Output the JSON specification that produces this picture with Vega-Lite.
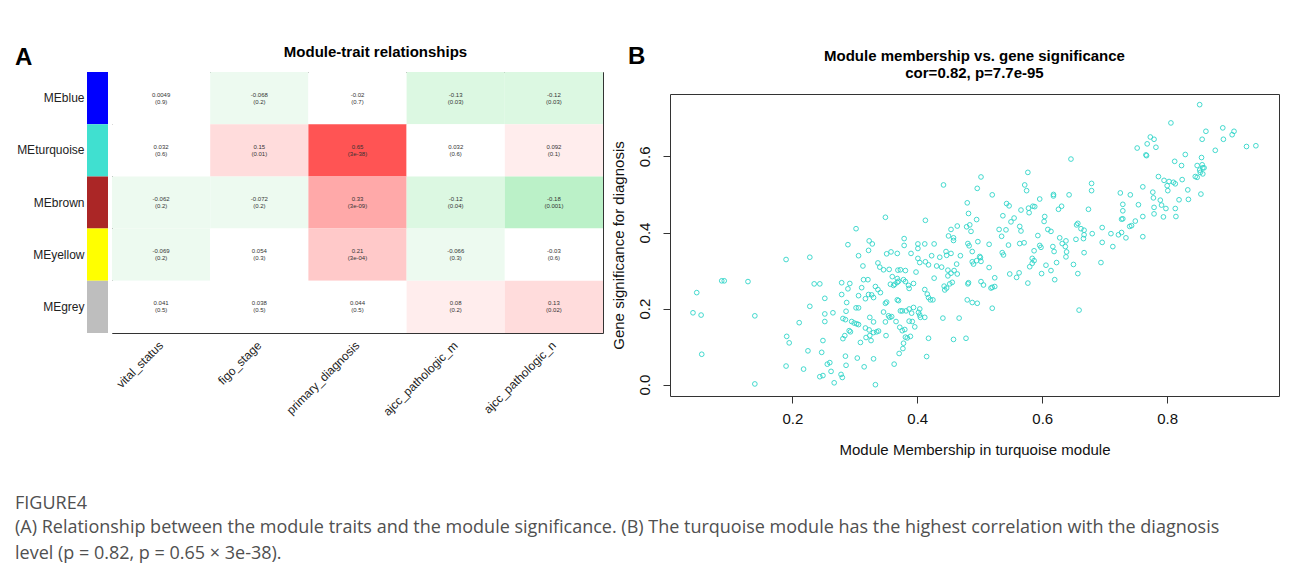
{
  "$schema": "https://vega.github.io/schema/vega-lite/v6.json",
  "background": "white",
  "padding": {"left": 15, "top": 44, "right": 0, "bottom": 0},
  "bounds": "flush",
  "spacing": 583,
  "resolve": {"scale": {"color": "independent"}},
  "config": {
    "font": "Liberation Sans",
    "view": {"stroke": "#333333", "strokeWidth": 1},
    "axis": {"grid": false, "domain": false, "labelFont": "Liberation Sans", "titleFont": "Liberation Sans", "labelColor": "#111111", "titleColor": "#111111", "tickColor": "#333333", "titleFontWeight": "normal"},
    "title": {"font": "Liberation Sans", "color": "#000000"}
  },
  "title": {
    "text": "FIGURE4",
    "subtitle": ["(A) Relationship between the module traits and the module significance. (B) The turquoise module has the highest correlation with the diagnosis", "level (p = 0.82, p = 0.65 × 3e-38)."],
    "orient": "bottom",
    "anchor": "start",
    "font": "Open Sans",
    "fontSize": 18,
    "fontWeight": "normal",
    "color": "#505050",
    "subtitleFont": "Open Sans",
    "subtitleFontSize": 18,
    "subtitleColor": "#505050",
    "subtitleLineHeight": 26,
    "subtitlePadding": 6,
    "offset": 37
  },
  "datasets": {
    "modules": [
      {"module": "MEblue"}, {"module": "MEturquoise"}, {"module": "MEbrown"}, {"module": "MEyellow"}, {"module": "MEgrey"}
    ],
    "cells": [
      {"module": "MEblue", "trait": "vital_status", "corr": 0.0049, "r": "0.0049", "p": "(0.9)"},
      {"module": "MEblue", "trait": "figo_stage", "corr": -0.068, "r": "-0.068", "p": "(0.2)"},
      {"module": "MEblue", "trait": "primary_diagnosis", "corr": -0.02, "r": "-0.02", "p": "(0.7)"},
      {"module": "MEblue", "trait": "ajcc_pathologic_m", "corr": -0.13, "r": "-0.13", "p": "(0.03)"},
      {"module": "MEblue", "trait": "ajcc_pathologic_n", "corr": -0.12, "r": "-0.12", "p": "(0.03)"},
      {"module": "MEturquoise", "trait": "vital_status", "corr": 0.032, "r": "0.032", "p": "(0.6)"},
      {"module": "MEturquoise", "trait": "figo_stage", "corr": 0.15, "r": "0.15", "p": "(0.01)"},
      {"module": "MEturquoise", "trait": "primary_diagnosis", "corr": 0.65, "r": "0.65", "p": "(3e-38)"},
      {"module": "MEturquoise", "trait": "ajcc_pathologic_m", "corr": 0.032, "r": "0.032", "p": "(0.6)"},
      {"module": "MEturquoise", "trait": "ajcc_pathologic_n", "corr": 0.092, "r": "0.092", "p": "(0.1)"},
      {"module": "MEbrown", "trait": "vital_status", "corr": -0.062, "r": "-0.062", "p": "(0.2)"},
      {"module": "MEbrown", "trait": "figo_stage", "corr": -0.072, "r": "-0.072", "p": "(0.2)"},
      {"module": "MEbrown", "trait": "primary_diagnosis", "corr": 0.33, "r": "0.33", "p": "(3e-09)"},
      {"module": "MEbrown", "trait": "ajcc_pathologic_m", "corr": -0.12, "r": "-0.12", "p": "(0.04)"},
      {"module": "MEbrown", "trait": "ajcc_pathologic_n", "corr": -0.18, "r": "-0.18", "p": "(0.001)"},
      {"module": "MEyellow", "trait": "vital_status", "corr": -0.069, "r": "-0.069", "p": "(0.2)"},
      {"module": "MEyellow", "trait": "figo_stage", "corr": 0.054, "r": "0.054", "p": "(0.3)"},
      {"module": "MEyellow", "trait": "primary_diagnosis", "corr": 0.21, "r": "0.21", "p": "(3e-04)"},
      {"module": "MEyellow", "trait": "ajcc_pathologic_m", "corr": -0.066, "r": "-0.066", "p": "(0.3)"},
      {"module": "MEyellow", "trait": "ajcc_pathologic_n", "corr": -0.03, "r": "-0.03", "p": "(0.6)"},
      {"module": "MEgrey", "trait": "vital_status", "corr": 0.041, "r": "0.041", "p": "(0.5)"},
      {"module": "MEgrey", "trait": "figo_stage", "corr": 0.038, "r": "0.038", "p": "(0.5)"},
      {"module": "MEgrey", "trait": "primary_diagnosis", "corr": 0.044, "r": "0.044", "p": "(0.5)"},
      {"module": "MEgrey", "trait": "ajcc_pathologic_m", "corr": 0.08, "r": "0.08", "p": "(0.2)"},
      {"module": "MEgrey", "trait": "ajcc_pathologic_n", "corr": 0.13, "r": "0.13", "p": "(0.02)"}
    ],
    "genes": [
      {"mm":0.442,"gs":0.525},{"mm":0.496,"gs":0.516},{"mm":0.480,"gs":0.478},{"mm":0.482,"gs":0.450},{"mm":0.495,"gs":0.434},
      {"mm":0.349,"gs":0.440},{"mm":0.413,"gs":0.432},{"mm":0.302,"gs":0.410},{"mm":0.454,"gs":0.408},{"mm":0.464,"gs":0.417},
      {"mm":0.479,"gs":0.415},{"mm":0.484,"gs":0.420},{"mm":0.486,"gs":0.403},{"mm":0.450,"gs":0.391},{"mm":0.458,"gs":0.386},
      {"mm":0.458,"gs":0.379},{"mm":0.379,"gs":0.384},{"mm":0.379,"gs":0.366},{"mm":0.323,"gs":0.378},{"mm":0.328,"gs":0.370},
      {"mm":0.322,"gs":0.353},{"mm":0.289,"gs":0.368},{"mm":0.306,"gs":0.339},{"mm":0.401,"gs":0.370},{"mm":0.412,"gs":0.370},
      {"mm":0.427,"gs":0.370},{"mm":0.401,"gs":0.358},{"mm":0.481,"gs":0.371},{"mm":0.483,"gs":0.365},{"mm":0.497,"gs":0.376},
      {"mm":0.488,"gs":0.350},{"mm":0.446,"gs":0.350},{"mm":0.454,"gs":0.345},{"mm":0.447,"gs":0.340},{"mm":0.469,"gs":0.339},
      {"mm":0.351,"gs":0.344},{"mm":0.358,"gs":0.349},{"mm":0.368,"gs":0.345},{"mm":0.390,"gs":0.345},{"mm":0.423,"gs":0.339},
      {"mm":0.436,"gs":0.335},{"mm":0.228,"gs":0.335},{"mm":0.190,"gs":0.329},{"mm":0.087,"gs":0.273},{"mm":0.091,"gs":0.273},
      {"mm":0.129,"gs":0.271},{"mm":0.047,"gs":0.242},{"mm":0.041,"gs":0.189},{"mm":0.054,"gs":0.183},{"mm":0.055,"gs":0.080},
      {"mm":0.140,"gs":0.181},{"mm":0.140,"gs":0.002},{"mm":0.235,"gs":0.265},{"mm":0.244,"gs":0.265},{"mm":0.228,"gs":0.206},
      {"mm":0.252,"gs":0.227},{"mm":0.252,"gs":0.186},{"mm":0.252,"gs":0.166},{"mm":0.265,"gs":0.189},{"mm":0.211,"gs":0.163},
      {"mm":0.191,"gs":0.127},{"mm":0.195,"gs":0.110},{"mm":0.249,"gs":0.116},{"mm":0.225,"gs":0.089},{"mm":0.247,"gs":0.085},
      {"mm":0.190,"gs":0.049},{"mm":0.218,"gs":0.041},{"mm":0.256,"gs":0.054},{"mm":0.260,"gs":0.058},{"mm":0.262,"gs":0.035},
      {"mm":0.244,"gs":0.021},{"mm":0.249,"gs":0.024},{"mm":0.267,"gs":0.005},{"mm":0.278,"gs":0.027},{"mm":0.280,"gs":0.019},
      {"mm":0.285,"gs":0.075},{"mm":0.286,"gs":0.051},{"mm":0.304,"gs":0.070},{"mm":0.315,"gs":0.047},{"mm":0.330,"gs":0.068},
      {"mm":0.333,"gs":0.000},{"mm":0.309,"gs":0.111},{"mm":0.281,"gs":0.121},{"mm":0.284,"gs":0.129},{"mm":0.291,"gs":0.142},
      {"mm":0.293,"gs":0.139},{"mm":0.281,"gs":0.174},{"mm":0.285,"gs":0.171},{"mm":0.286,"gs":0.193},{"mm":0.295,"gs":0.166},
      {"mm":0.299,"gs":0.162},{"mm":0.303,"gs":0.160},{"mm":0.306,"gs":0.158},{"mm":0.287,"gs":0.216},{"mm":0.279,"gs":0.237},
      {"mm":0.279,"gs":0.268},{"mm":0.292,"gs":0.266},{"mm":0.289,"gs":0.252},{"mm":0.306,"gs":0.234},{"mm":0.302,"gs":0.202},
      {"mm":0.306,"gs":0.202},{"mm":0.311,"gs":0.255},{"mm":0.314,"gs":0.276},{"mm":0.321,"gs":0.276},{"mm":0.313,"gs":0.312},
      {"mm":0.317,"gs":0.226},{"mm":0.322,"gs":0.237},{"mm":0.327,"gs":0.236},{"mm":0.330,"gs":0.229},{"mm":0.333,"gs":0.258},
      {"mm":0.337,"gs":0.250},{"mm":0.341,"gs":0.242},{"mm":0.337,"gs":0.320},{"mm":0.340,"gs":0.309},{"mm":0.346,"gs":0.302},
      {"mm":0.355,"gs":0.303},{"mm":0.349,"gs":0.214},{"mm":0.351,"gs":0.217},{"mm":0.346,"gs":0.191},{"mm":0.324,"gs":0.177},
      {"mm":0.330,"gs":0.165},{"mm":0.317,"gs":0.149},{"mm":0.323,"gs":0.144},{"mm":0.330,"gs":0.137},{"mm":0.335,"gs":0.139},
      {"mm":0.338,"gs":0.141},{"mm":0.318,"gs":0.124},{"mm":0.324,"gs":0.129},{"mm":0.326,"gs":0.116},{"mm":0.354,"gs":0.181},
      {"mm":0.356,"gs":0.177},{"mm":0.359,"gs":0.179},{"mm":0.349,"gs":0.165},{"mm":0.350,"gs":0.129},{"mm":0.366,"gs":0.166},
      {"mm":0.357,"gs":0.264},{"mm":0.362,"gs":0.261},{"mm":0.364,"gs":0.264},{"mm":0.368,"gs":0.269},{"mm":0.369,"gs":0.301},
      {"mm":0.373,"gs":0.302},{"mm":0.381,"gs":0.300},{"mm":0.360,"gs":0.284},{"mm":0.368,"gs":0.279},{"mm":0.370,"gs":0.272},
      {"mm":0.378,"gs":0.276},{"mm":0.381,"gs":0.271},{"mm":0.386,"gs":0.261},{"mm":0.394,"gs":0.266},{"mm":0.387,"gs":0.253},
      {"mm":0.368,"gs":0.223},{"mm":0.370,"gs":0.221},{"mm":0.373,"gs":0.194},{"mm":0.376,"gs":0.194},{"mm":0.372,"gs":0.151},
      {"mm":0.376,"gs":0.142},{"mm":0.380,"gs":0.145},{"mm":0.381,"gs":0.125},{"mm":0.384,"gs":0.123},{"mm":0.389,"gs":0.127},
      {"mm":0.377,"gs":0.095},{"mm":0.378,"gs":0.109},{"mm":0.371,"gs":0.082},{"mm":0.363,"gs":0.054},{"mm":0.382,"gs":0.194},
      {"mm":0.387,"gs":0.199},{"mm":0.391,"gs":0.188},{"mm":0.394,"gs":0.203},{"mm":0.404,"gs":0.199},{"mm":0.387,"gs":0.167},
      {"mm":0.392,"gs":0.166},{"mm":0.396,"gs":0.152},{"mm":0.402,"gs":0.190},{"mm":0.404,"gs":0.183},{"mm":0.405,"gs":0.177},
      {"mm":0.412,"gs":0.177},{"mm":0.398,"gs":0.296},{"mm":0.401,"gs":0.332},{"mm":0.404,"gs":0.321},{"mm":0.413,"gs":0.323},
      {"mm":0.418,"gs":0.315},{"mm":0.431,"gs":0.312},{"mm":0.439,"gs":0.309},{"mm":0.412,"gs":0.250},{"mm":0.416,"gs":0.238},
      {"mm":0.418,"gs":0.229},{"mm":0.421,"gs":0.223},{"mm":0.425,"gs":0.223},{"mm":0.427,"gs":0.280},{"mm":0.449,"gs":0.301},
      {"mm":0.449,"gs":0.286},{"mm":0.454,"gs":0.293},{"mm":0.459,"gs":0.300},{"mm":0.464,"gs":0.291},{"mm":0.443,"gs":0.259},
      {"mm":0.444,"gs":0.249},{"mm":0.447,"gs":0.254},{"mm":0.452,"gs":0.265},{"mm":0.456,"gs":0.269},{"mm":0.463,"gs":0.317},
      {"mm":0.481,"gs":0.265},{"mm":0.482,"gs":0.268},{"mm":0.480,"gs":0.223},{"mm":0.488,"gs":0.216},{"mm":0.496,"gs":0.214},
      {"mm":0.441,"gs":0.175},{"mm":0.467,"gs":0.175},{"mm":0.418,"gs":0.122},{"mm":0.458,"gs":0.119},{"mm":0.478,"gs":0.122},
      {"mm":0.415,"gs":0.074},{"mm":0.488,"gs":0.323},{"mm":0.490,"gs":0.317},{"mm":0.495,"gs":0.326},
      {"mm":0.852,"gs":0.736},{"mm":0.806,"gs":0.688},{"mm":0.862,"gs":0.666},{"mm":0.889,"gs":0.675},{"mm":0.890,"gs":0.645},
      {"mm":0.904,"gs":0.657},{"mm":0.907,"gs":0.666},{"mm":0.927,"gs":0.626},{"mm":0.942,"gs":0.628},{"mm":0.877,"gs":0.616},
      {"mm":0.856,"gs":0.645},{"mm":0.773,"gs":0.651},{"mm":0.779,"gs":0.645},{"mm":0.768,"gs":0.633},{"mm":0.782,"gs":0.624},
      {"mm":0.752,"gs":0.622},{"mm":0.766,"gs":0.604},{"mm":0.767,"gs":0.602},{"mm":0.829,"gs":0.605},{"mm":0.812,"gs":0.587},
      {"mm":0.823,"gs":0.576},{"mm":0.855,"gs":0.597},{"mm":0.856,"gs":0.578},{"mm":0.848,"gs":0.576},{"mm":0.852,"gs":0.564},
      {"mm":0.857,"gs":0.570},{"mm":0.859,"gs":0.570},{"mm":0.853,"gs":0.558},{"mm":0.845,"gs":0.547},{"mm":0.848,"gs":0.545},
      {"mm":0.857,"gs":0.554},{"mm":0.646,"gs":0.593},{"mm":0.786,"gs":0.547},{"mm":0.795,"gs":0.537},{"mm":0.803,"gs":0.534},
      {"mm":0.810,"gs":0.532},{"mm":0.813,"gs":0.528},{"mm":0.800,"gs":0.523},{"mm":0.801,"gs":0.510},{"mm":0.824,"gs":0.539},
      {"mm":0.833,"gs":0.512},{"mm":0.834,"gs":0.487},{"mm":0.854,"gs":0.501},{"mm":0.819,"gs":0.486},{"mm":0.813,"gs":0.463},
      {"mm":0.814,"gs":0.442},{"mm":0.761,"gs":0.520},{"mm":0.777,"gs":0.506},{"mm":0.778,"gs":0.491},{"mm":0.779,"gs":0.466},
      {"mm":0.779,"gs":0.449},{"mm":0.794,"gs":0.441},{"mm":0.789,"gs":0.485},{"mm":0.791,"gs":0.472},{"mm":0.798,"gs":0.463},
      {"mm":0.761,"gs":0.442},{"mm":0.761,"gs":0.389},{"mm":0.754,"gs":0.473},{"mm":0.741,"gs":0.499},{"mm":0.725,"gs":0.504},
      {"mm":0.729,"gs":0.474},{"mm":0.729,"gs":0.457},{"mm":0.727,"gs":0.435},{"mm":0.729,"gs":0.436},{"mm":0.749,"gs":0.430},
      {"mm":0.743,"gs":0.418},{"mm":0.740,"gs":0.416},{"mm":0.734,"gs":0.386},{"mm":0.727,"gs":0.400},{"mm":0.722,"gs":0.394},
      {"mm":0.713,"gs":0.363},{"mm":0.710,"gs":0.397},{"mm":0.696,"gs":0.413},{"mm":0.696,"gs":0.374},{"mm":0.679,"gs":0.529},
      {"mm":0.679,"gs":0.510},{"mm":0.674,"gs":0.461},{"mm":0.680,"gs":0.397},{"mm":0.667,"gs":0.394},{"mm":0.667,"gs":0.406},
      {"mm":0.662,"gs":0.410},{"mm":0.666,"gs":0.384},{"mm":0.667,"gs":0.347},{"mm":0.657,"gs":0.424},{"mm":0.655,"gs":0.420},
      {"mm":0.654,"gs":0.382},{"mm":0.643,"gs":0.499},{"mm":0.618,"gs":0.500},{"mm":0.618,"gs":0.496},{"mm":0.631,"gs":0.469},
      {"mm":0.626,"gs":0.461},{"mm":0.604,"gs":0.442},{"mm":0.596,"gs":0.488},{"mm":0.577,"gs":0.558},{"mm":0.572,"gs":0.525},
      {"mm":0.575,"gs":0.510},{"mm":0.585,"gs":0.469},{"mm":0.588,"gs":0.468},{"mm":0.578,"gs":0.464},{"mm":0.579,"gs":0.452},
      {"mm":0.566,"gs":0.459},{"mm":0.555,"gs":0.438},{"mm":0.550,"gs":0.428},{"mm":0.537,"gs":0.444},{"mm":0.543,"gs":0.476},
      {"mm":0.547,"gs":0.470},{"mm":0.520,"gs":0.499},{"mm":0.502,"gs":0.546},{"mm":0.531,"gs":0.408},{"mm":0.542,"gs":0.407},
      {"mm":0.535,"gs":0.390},{"mm":0.564,"gs":0.416},{"mm":0.566,"gs":0.404},{"mm":0.564,"gs":0.371},{"mm":0.571,"gs":0.373},
      {"mm":0.593,"gs":0.392},{"mm":0.609,"gs":0.408},{"mm":0.614,"gs":0.403},{"mm":0.628,"gs":0.386},{"mm":0.632,"gs":0.371},
      {"mm":0.638,"gs":0.378},{"mm":0.637,"gs":0.363},{"mm":0.639,"gs":0.349},{"mm":0.638,"gs":0.336},{"mm":0.617,"gs":0.363},
      {"mm":0.619,"gs":0.350},{"mm":0.596,"gs":0.366},{"mm":0.598,"gs":0.361},{"mm":0.587,"gs":0.352},{"mm":0.584,"gs":0.332},
      {"mm":0.546,"gs":0.367},{"mm":0.536,"gs":0.347},{"mm":0.538,"gs":0.341},{"mm":0.515,"gs":0.369},{"mm":0.500,"gs":0.337},
      {"mm":0.501,"gs":0.334},{"mm":0.502,"gs":0.324},{"mm":0.515,"gs":0.308},{"mm":0.502,"gs":0.271},{"mm":0.506,"gs":0.262},
      {"mm":0.524,"gs":0.281},{"mm":0.518,"gs":0.254},{"mm":0.520,"gs":0.256},{"mm":0.524,"gs":0.258},{"mm":0.520,"gs":0.201},
      {"mm":0.548,"gs":0.291},{"mm":0.559,"gs":0.282},{"mm":0.563,"gs":0.294},{"mm":0.577,"gs":0.267},{"mm":0.580,"gs":0.310},
      {"mm":0.584,"gs":0.319},{"mm":0.587,"gs":0.326},{"mm":0.599,"gs":0.292},{"mm":0.606,"gs":0.314},{"mm":0.614,"gs":0.300},
      {"mm":0.620,"gs":0.276},{"mm":0.623,"gs":0.321},{"mm":0.650,"gs":0.316},{"mm":0.657,"gs":0.292},{"mm":0.694,"gs":0.321},
      {"mm":0.659,"gs":0.196},{"mm":0.603,"gs":0.429}
    ]
  },
  "hconcat": [
    {
      "bounds": "flush",
      "spacing": 4,
      "resolve": {"scale": {"color": "independent"}},
      "hconcat": [
        {
          "width": 21,
          "height": 261,
          "view": {"stroke": null},
          "title": {"text": "A", "fontSize": 24, "fontWeight": "bold", "anchor": "start", "frame": "group", "dx": -72, "offset": -17, "baseline": "alphabetic"},
          "data": {"name": "modules"},
          "mark": {"type": "rect"},
          "encoding": {
            "y": {"field": "module", "type": "nominal", "sort": ["MEblue", "MEturquoise", "MEbrown", "MEyellow", "MEgrey"], "scale": {"paddingInner": 0, "paddingOuter": 0},
              "axis": {"title": null, "ticks": false, "domain": false, "labelPadding": 3, "labelFontSize": 12, "labelColor": "#222222"}},
            "color": {"field": "module", "type": "nominal", "scale": {"domain": ["MEblue", "MEturquoise", "MEbrown", "MEyellow", "MEgrey"], "range": ["#0000ff", "#40e0d0", "#ab2626", "#ffff00", "#bebebe"]}, "legend": null}
          }
        },
        {
          "width": 491,
          "height": 261,
          "title": {"text": "Module-trait relationships", "fontSize": 15, "fontWeight": "bold", "anchor": "middle", "frame": "group", "dx": 18, "offset": 0, "baseline": "alphabetic"},
          "data": {"name": "cells"},
          "encoding": {
            "x": {"field": "trait", "type": "nominal", "sort": ["vital_status", "figo_stage", "primary_diagnosis", "ajcc_pathologic_m", "ajcc_pathologic_n"], "scale": {"paddingInner": 0, "paddingOuter": 0},
              "axis": {"title": null, "orient": "bottom", "labelAngle": -45, "labelAlign": "right", "labelBaseline": "middle", "ticks": false, "domain": false, "labelPadding": 10, "labelFontSize": 12, "labelColor": "#222222"}},
            "y": {"field": "module", "type": "nominal", "sort": ["MEblue", "MEturquoise", "MEbrown", "MEyellow", "MEgrey"], "scale": {"paddingInner": 0, "paddingOuter": 0}, "axis": null}
          },
          "layer": [
            {"mark": {"type": "rect"},
             "encoding": {"color": {"field": "corr", "type": "quantitative", "legend": null,
               "scale": {"type": "threshold", "domain": [-0.16, -0.115, -0.04, 0.07, 0.12, 0.16, 0.24, 0.4], "range": ["#bbf1c8", "#dcf8e2", "#edfaf0", "#ffffff", "#ffeded", "#ffdcdc", "#ffc9c9", "#ffa9a9", "#ff5454"]}}}},
            {"mark": {"type": "text", "fontSize": 6, "dy": -3.5, "color": "#333333"}, "encoding": {"text": {"field": "r"}}},
            {"mark": {"type": "text", "fontSize": 6, "dy": 3.5, "color": "#333333"}, "encoding": {"text": {"field": "p"}}}
          ]
        }
      ]
    },
    {
      "bounds": "flush",
      "spacing": 21,
      "vconcat": [
        {
          "width": 609,
          "height": 1,
          "view": {"stroke": null},
          "title": {"text": "B", "fontSize": 24, "fontWeight": "bold", "anchor": "start", "frame": "group", "dx": -42, "offset": -16, "baseline": "alphabetic"},
          "data": {"values": []},
          "mark": {"type": "rect", "opacity": 0},
          "encoding": {}
        },
        {
          "width": 609,
          "height": 302,
          "title": {"text": ["Module membership vs. gene significance", "cor=0.82, p=7.7e-95"], "fontSize": 15, "fontWeight": "bold", "anchor": "middle", "frame": "group", "lineHeight": 17, "offset": 1, "baseline": "alphabetic"},
          "data": {"name": "genes"},
          "mark": {"type": "point", "filled": false, "color": "#30d5c8", "size": 22, "strokeWidth": 0.9, "opacity": 1},
          "encoding": {
            "x": {"field": "mm", "type": "quantitative", "scale": {"domain": [0.0042, 0.979], "nice": false, "zero": false},
              "axis": {"title": "Module Membership in turquoise module", "values": [0.2, 0.4, 0.6, 0.8], "format": ".1f", "tickSize": 7, "labelFontSize": 15, "titleFontSize": 15, "labelPadding": 8, "titlePadding": 16}},
            "y": {"field": "gs", "type": "quantitative", "scale": {"domain": [-0.0297, 0.764], "nice": false, "zero": false},
              "axis": {"title": "Gene significance for diagnosis", "values": [0, 0.2, 0.4, 0.6], "format": ".1f", "tickSize": 7, "labelAngle": -90, "labelAlign": "center", "labelBaseline": "bottom", "labelFontSize": 15, "titleFontSize": 15, "labelPadding": 11, "titlePadding": 11}}
          }
        }
      ]
    }
  ]
}
